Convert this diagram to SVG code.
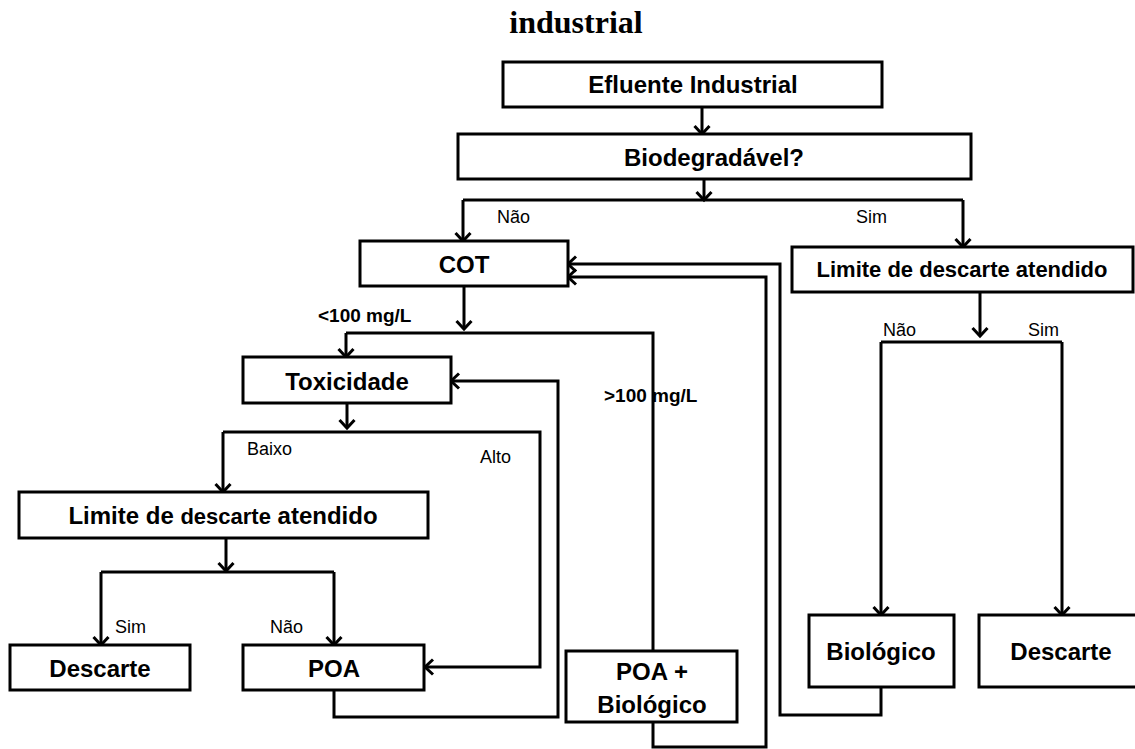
<svg xmlns="http://www.w3.org/2000/svg" width="1135" height="749" viewBox="0 0 1135 749">
<defs>
<style>
.box{fill:#fff;stroke:#000;stroke-width:3}
.c{fill:none;stroke:#000;stroke-width:3}
.t{font-family:"Liberation Sans",Arial,sans-serif;font-weight:bold;font-size:24px;text-anchor:middle;fill:#000}
.l{font-family:"Liberation Sans",Arial,sans-serif;font-size:18px;fill:#000}
.lb{font-family:"Liberation Sans",Arial,sans-serif;font-size:19px;font-weight:bold;fill:#000}
.title{font-family:"Liberation Serif","Times New Roman",serif;font-weight:bold;font-size:32px;text-anchor:middle;fill:#000}
</style>
<marker id="arr" viewBox="0 0 20 20" refX="17" refY="10" markerWidth="20" markerHeight="20" markerUnits="userSpaceOnUse" orient="auto">
<path d="M9,2.5 L17,10 L9,17.5" fill="none" stroke="#000" stroke-width="3"/>
</marker>
</defs>
<rect width="1135" height="749" fill="#fff"/>
<text class="title" x="576" y="33">industrial</text>

<g id="connectors">
<path class="c" d="M702,107 V134" marker-end="url(#arr)"/>
<path class="c" d="M704,179 V200" marker-end="url(#arr)"/>
<path class="c" d="M463,200 H963"/>
<path class="c" d="M463,200 V241" marker-end="url(#arr)"/>
<path class="c" d="M963,200 V247" marker-end="url(#arr)"/>
<path class="c" d="M464,286 V329" marker-end="url(#arr)"/>
<path class="c" d="M346,333 H653 V651"/>
<path class="c" d="M346,333 V357" marker-end="url(#arr)"/>
<path class="c" d="M347,403 V428" marker-end="url(#arr)"/>
<path class="c" d="M223,432 H540 V667 H425" marker-end="url(#arr)"/>
<path class="c" d="M223,432 V492" marker-end="url(#arr)"/>
<path class="c" d="M226,538 V571" marker-end="url(#arr)"/>
<path class="c" d="M101,572 H334"/>
<path class="c" d="M101,572 V645" marker-end="url(#arr)"/>
<path class="c" d="M334,572 V645" marker-end="url(#arr)"/>
<path class="c" d="M334,690 V717 H558 V381 H451" marker-end="url(#arr)"/>
<path class="c" d="M653,722 V747 H766 V277 H568" marker-end="url(#arr)"/>
<path class="c" d="M881,687 V715 H780 V264 H568" marker-end="url(#arr)"/>
<path class="c" d="M980,292 V336" marker-end="url(#arr)"/>
<path class="c" d="M881,342 H1062"/>
<path class="c" d="M881,342 V615" marker-end="url(#arr)"/>
<path class="c" d="M1062,342 V615" marker-end="url(#arr)"/>
</g>

<g id="labels">
<text class="l" x="497" y="223">Não</text>
<text class="l" x="856" y="223">Sim</text>
<text class="lb" x="318" y="322">&lt;100 mg/L</text>
<text class="lb" x="604" y="402">&gt;100 mg/L</text>
<text class="l" x="247" y="455">Baixo</text>
<text class="l" x="480" y="463">Alto</text>
<text class="l" x="115" y="633">Sim</text>
<text class="l" x="270" y="633">Não</text>
<text class="l" x="883" y="336">Não</text>
<text class="l" x="1028" y="336">Sim</text>
</g>

<g id="efluente"><rect class="box" x="503" y="62" width="379" height="45"/><text class="t" x="693" y="93">Efluente Industrial</text></g>
<g id="biodegradavel"><rect class="box" x="458" y="134" width="513" height="45"/><text class="t" x="714" y="166">Biodegradável?</text></g>
<g id="cot"><rect class="box" x="360" y="241" width="208" height="45"/><text class="t" x="464" y="273">COT</text></g>
<g id="limite-direita"><rect class="box" x="792" y="247" width="341" height="45"/><text class="t" x="962" y="277" style="font-size:22px">Limite de descarte atendido</text></g>
<g id="toxicidade"><rect class="box" x="243" y="357" width="208" height="46"/><text class="t" x="347" y="390">Toxicidade</text></g>
<g id="limite-esquerda"><rect class="box" x="19" y="492" width="409" height="46"/><text class="t" x="223" y="524">Limite de <tspan style="font-size:22px">descarte</tspan> atendido</text></g>
<g id="descarte-esquerda"><rect class="box" x="10" y="645" width="180" height="45"/><text class="t" x="100" y="677">Descarte</text></g>
<g id="poa"><rect class="box" x="243" y="645" width="181" height="45"/><text class="t" x="334" y="677">POA</text></g>
<g id="poa-biologico"><rect class="box" x="566" y="651" width="171" height="71"/><text class="t" x="652" y="680">POA +</text><text class="t" x="652" y="713">Biológico</text></g>
<g id="biologico"><rect class="box" x="809" y="615" width="145" height="72"/><text class="t" x="881" y="660">Biológico</text></g>
<g id="descarte-direita"><rect class="box" x="979" y="615" width="170" height="72"/><text class="t" x="1061" y="660">Descarte</text></g>
</svg>
